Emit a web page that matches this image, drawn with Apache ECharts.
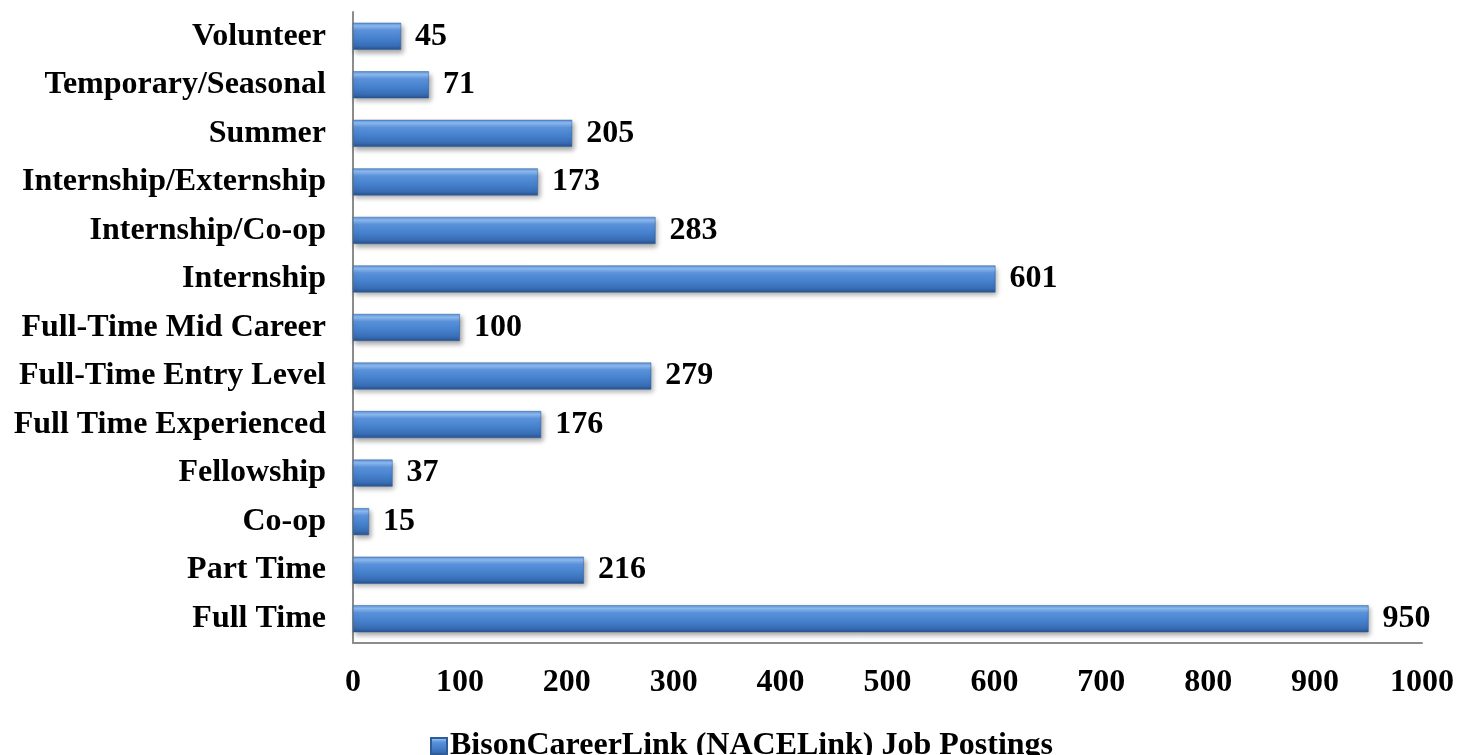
<!DOCTYPE html>
<html>
<head>
<meta charset="utf-8">
<script src="https://cdn.jsdelivr.net/npm/echarts@6/dist/echarts.min.js"></script>
<style>
html,body{margin:0;padding:0;background:#fff;}
#c{width:1457px;height:755px;}
</style>
</head>
<body>
<div id="c"></div>
<script>
var categories = ["Full Time","Part Time","Co-op","Fellowship","Full Time Experienced","Full-Time Entry Level","Full-Time Mid Career","Internship","Internship/Co-op","Internship/Externship","Summer","Temporary/Seasonal","Volunteer"];
var values = [950,216,15,37,176,279,100,601,283,173,205,71,45];
var xTicks = {min:0, max:1000, interval:100};
var seriesName = "BisonCareerLink (NACELink) Job Postings";

var font = "'Liberation Serif','Times New Roman',serif";
var grad = new echarts.graphic.LinearGradient(0,0,0,1,[
  {offset:0, color:'#5b92da'},
  {offset:0.12, color:'#8fbdf2'},
  {offset:0.28, color:'#5a92db'},
  {offset:0.6, color:'#4580cc'},
  {offset:0.85, color:'#386db5'},
  {offset:1, color:'#28528c'}
]);
var chart = echarts.init(document.getElementById('c'));
chart.setOption({
  animation:false,
  grid:{left:353,right:35,top:12,bottom:112,containLabel:false},
  xAxis:{
    type:'value', min:xTicks.min, max:xTicks.max, interval:xTicks.interval,
    axisLine:{show:true,lineStyle:{color:'#8c8c8c',width:2}},
    axisTick:{show:false},
    splitLine:{show:false},
    axisLabel:{margin:24,color:'#000',fontFamily:font,fontWeight:'bold',fontSize:32,
      formatter:function(v){return String(v);}}
  },
  yAxis:{
    type:'category', data:categories,
    axisLine:{show:true,lineStyle:{color:'#8c8c8c',width:2}},
    axisTick:{show:false},
    axisLabel:{margin:27,color:'#000',fontFamily:font,fontWeight:'bold',fontSize:32}
  },
  legend:{
    show:true, left:425, top:725,
    icon:'rect', itemWidth:16, itemHeight:16, itemGap:5,
    textStyle:{color:'#000',fontFamily:font,fontWeight:'bold',fontSize:32,padding:[0,0,0,-2]},
    data:[seriesName]
  },
  series:[{
    name:seriesName, type:'bar', data:values, barWidth:27,
    itemStyle:{color:grad, borderColor:'#2f5d99', borderWidth:0.5,
      shadowColor:'rgba(0,0,0,0.35)', shadowBlur:5, shadowOffsetX:2, shadowOffsetY:3},
    label:{show:true, position:'right', distance:14, color:'#000',
      fontFamily:font, fontWeight:'bold', fontSize:32}
  }]
});
</script>
</body>
</html>
